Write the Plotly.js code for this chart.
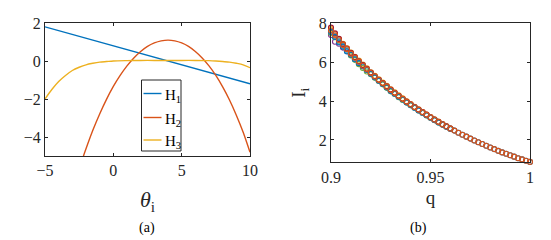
<!DOCTYPE html>
<html>
<head>
<meta charset="utf-8">
<script src="https://cdn.plot.ly/plotly-3.0.1.min.js"></script>
<style>html,body{margin:0;padding:0;background:#fff;}#chart{width:551px;height:240px;}</style>
</head>
<body>
<div id="chart"></div>
<script>
// ---- Panel (a) data ----
const h1Theta = [-5, 10];
const h1Vals  = [1.8, -1.2];
const h2Theta = [-2.2, -2, -1.5, -1, -0.5, 0, 0.5, 1, 1.5, 2, 2.5, 3, 3.5, 4, 4.5, 5, 5.5, 6, 6.5, 7, 7.5, 8, 8.5, 9, 9.5, 10];
const h2Vals  = [-5.03, -4.62, -3.65, -2.79, -2.02, -1.34, -0.76, -0.26, 0.16, 0.50, 0.77, 0.95, 1.06, 1.10, 1.06, 0.95, 0.77, 0.50, 0.16, -0.26, -0.76, -1.36, -2.05, -2.85, -3.75, -4.8];
const h3Theta = [-5, -4.5, -4, -3.5, -3, -2.5, -2, -1.5, -1, -0.5, 0, 1, 2, 3, 4, 5, 6, 7, 7.5, 8, 8.5, 9, 9.5, 10];
const h3Vals  = [-2.0, -1.5, -1.08, -0.76, -0.5, -0.33, -0.2, -0.12, -0.06, -0.03, 0.0, 0.02, 0.03, 0.03, 0.03, 0.03, 0.03, 0.02, 0.0, -0.03, -0.06, -0.12, -0.2, -0.35];
const seriesNamesA = ['H<sub>1</sub>', 'H<sub>2</sub>', 'H<sub>3</sub>'];

// ---- Panel (b) data ----
const qFull = [0.900,0.902,0.904,0.906,0.908,0.910,0.912,0.914,0.916,0.918,0.920,0.922,0.924,0.926,0.928,0.930,0.932,0.934,0.936,0.938,0.940,0.942,0.944,0.946,0.948,0.950,0.952,0.954,0.956,0.958,0.960,0.962,0.964,0.966,0.968,0.970,0.972,0.974,0.976,0.978,0.980,0.982,0.984,0.986,0.988,0.990,0.992,0.994,0.996,0.998,1.000];
const qLeft = [0.900,0.902,0.904,0.906,0.908,0.910,0.912,0.914,0.916,0.918,0.920,0.922,0.924,0.926,0.928,0.930,0.932,0.934,0.936,0.938,0.940,0.942,0.944,0.946,0.948,0.950,0.952,0.954,0.956,0.958,0.960];
const iPurple = [7.40,7.05,6.95,6.75,6.58,6.40,6.20,5.98,5.80,5.62,5.45,5.25,5.10,4.92,4.76,4.55,4.40,4.25,4.10,3.95,3.81,3.67,3.54,3.41,3.28,3.15,3.03,2.91,2.80,2.69,2.58];
const iGreen  = [7.50,7.28,7.08,6.85,6.60,6.35,6.12,5.90,5.70,5.52,5.38,5.20,5.03,4.86,4.68,4.50,4.36,4.20,4.06,3.92,3.78,3.65,3.52,3.39,3.26,3.14,3.02,2.90,2.79,2.68,2.57];
const iYellow = [7.70,7.45,7.18,6.95,6.72,6.50,6.28,6.08,5.88,5.68,5.48,5.30,5.12,4.95,4.78,4.61,4.45,4.29,4.14,3.99,3.85,3.71,3.57,3.44,3.31,3.18,3.06,2.94,2.82,2.70,2.59];
const iCyan   = [7.60,7.35,7.10,6.86,6.62,6.42,6.20,6.00,5.80,5.60,5.42,5.24,5.06,4.89,4.72,4.55,4.39,4.24,4.09,3.94,3.80,3.66,3.53,3.40,3.27,3.15,3.03,2.91,2.79,2.68,2.57];
const iDarkRed= [7.78,7.48,7.20,6.92,6.70,6.48,6.26,6.05,5.85,5.66,5.47,5.28,5.10,4.93,4.76,4.59,4.43,4.27,4.12,3.97,3.83,3.69,3.56,3.43,3.30,3.17,3.05,2.93,2.81,2.70,2.59];
const iBlue   = [7.55,7.30,7.02,6.80,6.55,6.38,6.15,5.95,5.78,5.60,5.40,5.22,5.05,4.88,4.70,4.52,4.38,4.22,4.08,3.93,3.80,3.66,3.52,3.40,3.27,3.14,3.02,2.90,2.79,2.68,2.57,2.48,2.37,2.27,2.17,2.07,1.97,1.88,1.79,1.70,1.61,1.53,1.44,1.36,1.29,1.21,1.14,1.06,1.00,0.93,0.87];
const iOrange = [7.63,7.38,7.13,6.89,6.67,6.44,6.23,6.02,5.82,5.63,5.44,5.26,5.08,4.91,4.74,4.57,4.41,4.26,4.11,3.96,3.82,3.68,3.55,3.42,3.29,3.16,3.04,2.92,2.80,2.69,2.58,2.48,2.37,2.27,2.17,2.07,1.97,1.88,1.79,1.70,1.61,1.53,1.44,1.36,1.29,1.21,1.14,1.06,1.00,0.93,0.87];

const xTicksA = [-5, 0, 5, 10];
const yTicksA = [-4, -2, 0, 2];
const xTicksB = [0.9, 0.95, 1];
const xTickTextB = ['0.9', '0.95', '1'];
const yTicksB = [2, 4, 6, 8];

const FONT = '"Liberation Serif", "Times New Roman", serif';
const AX = '#262626';
const C = {blue:'#0072BD', orange:'#D95319', yellow:'#EDB120', purple:'#7E2F8E', green:'#77AC30', cyan:'#4DBEEE', darkred:'#A2142F'};
const lineColorsA = [C.blue, C.orange, C.yellow];

function lineTrace(x, y, name, color) {
  return {x: x, y: y, name: name, type: 'scatter', mode: 'lines', xaxis: 'x', yaxis: 'y', showlegend: false,
    line: {color: color, width: 1.4, shape: 'spline', smoothing: 0.8}};
}
function markTrace(x, y, color) {
  return {x: x, y: y, type: 'scatter', mode: 'markers', xaxis: 'x2', yaxis: 'y2', showlegend: false,
    cliponaxis: false,
    marker: {symbol: 'circle-open', size: 5, color: color, line: {width: 1.1, color: color}}};
}

const data = [
  lineTrace(h1Theta, h1Vals, seriesNamesA[0], lineColorsA[0]),
  lineTrace(h2Theta, h2Vals, seriesNamesA[1], lineColorsA[1]),
  lineTrace(h3Theta, h3Vals, seriesNamesA[2], lineColorsA[2]),
  markTrace(qLeft, iPurple, C.purple),
  markTrace(qLeft, iGreen, C.green),
  markTrace(qLeft, iYellow, C.yellow),
  markTrace(qLeft, iCyan, C.cyan),
  markTrace(qLeft, iDarkRed, C.darkred),
  markTrace(qFull, iBlue, C.blue),
  markTrace(qFull, iOrange, C.orange)
];

const axBase = {showline: true, linecolor: AX, linewidth: 1, mirror: 'ticks', ticks: 'inside', ticklen: 3,
  tickcolor: AX, showgrid: false, zeroline: false, tickfont: {family: FONT, size: 16, color: AX}};

// legend box (drawn in paper space, px -> paper)
const W = 551, H = 240;
const px = v => v / W, py = v => 1 - v / H;
const legBox = {x0: 141.5, x1: 181, y0: 80, y1: 151};
const legRows = [93.5, 117.5, 140];
const shapes = [{type: 'rect', xref: 'paper', yref: 'paper', x0: px(legBox.x0), x1: px(legBox.x1),
  y0: py(legBox.y1), y1: py(legBox.y0), line: {color: AX, width: 1}, fillcolor: '#fff', layer: 'above'}];
const annotations = [];
legRows.forEach((ry, i) => {
  shapes.push({type: 'line', xref: 'paper', yref: 'paper', x0: px(143.5), x1: px(161.5), y0: py(ry), y1: py(ry),
    line: {color: lineColorsA[i], width: 1.4}, layer: 'above'});
  annotations.push({text: seriesNamesA[i], xref: 'paper', yref: 'paper', x: px(162.5), y: py(ry + 2),
    xanchor: 'left', yanchor: 'middle', showarrow: false, font: {family: FONT, size: 15, color: '#000'}});
});
annotations.push({text: '(a)', xref: 'paper', yref: 'paper', x: px(147), y: py(228), xanchor: 'center', yanchor: 'middle',
  showarrow: false, font: {family: FONT, size: 14, color: '#000'}});
annotations.push({text: '(b)', xref: 'paper', yref: 'paper', x: px(418), y: py(228), xanchor: 'center', yanchor: 'middle',
  showarrow: false, font: {family: FONT, size: 14, color: '#000'}});

const layout = {
  width: W, height: H,
  margin: {l: 0, r: 0, t: 0, b: 0},
  paper_bgcolor: '#fff', plot_bgcolor: '#fff',
  font: {family: FONT, color: AX},
  showlegend: false,
  xaxis: Object.assign({}, axBase, {domain: [px(45), px(250)], range: [-5, 10], tickvals: xTicksA,
    title: {text: '<i>θ</i><sub>i</sub>', font: {family: FONT, size: 22, color: AX}, standoff: 13}, anchor: 'y'}),
  yaxis: Object.assign({}, axBase, {domain: [py(156), py(23)], range: [-5, 2], tickvals: yTicksA, anchor: 'x'}),
  xaxis2: Object.assign({}, axBase, {domain: [px(331), px(530)], range: [0.9, 1], tickvals: xTicksB, ticktext: xTickTextB,
    title: {text: 'q', font: {family: FONT, size: 19, color: AX}, standoff: 6}, anchor: 'y2'}),
  yaxis2: Object.assign({}, axBase, {domain: [py(162.3), py(23.3)], range: [0.85, 8], tickvals: yTicksB,
    title: {text: 'I<sub>i</sub>', font: {family: FONT, size: 19, color: AX}, standoff: 8}, anchor: 'x2'}),
  shapes: shapes,
  annotations: annotations
};

Plotly.newPlot('chart', data, layout, {displayModeBar: false, staticPlot: true});
</script>
</body>
</html>
